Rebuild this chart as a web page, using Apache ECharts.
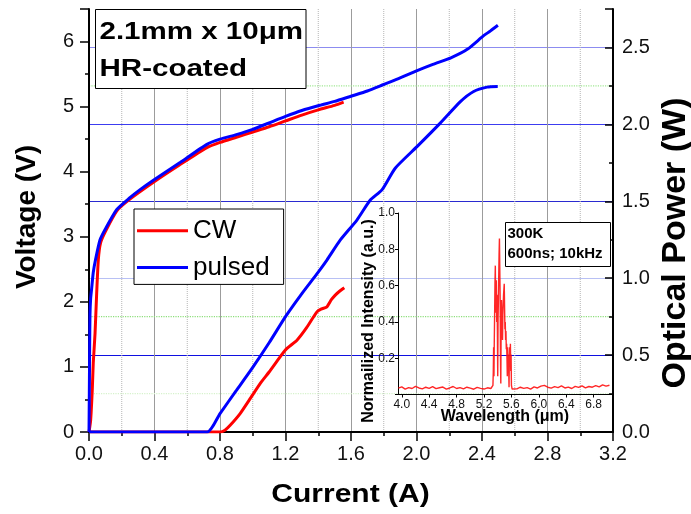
<!DOCTYPE html>
<html>
<head>
<meta charset="utf-8">
<script src="https://cdn.jsdelivr.net/npm/echarts@6/dist/echarts.min.js"></script>
<style>
html,body{margin:0;padding:0;background:#fff;}
#wrap{position:relative;width:691px;height:514px;}
#gridLayer,#chart{position:absolute;left:0;top:0;width:691px;height:514px;}
</style>
</head>
<body>
<div id="wrap">
  <div id="gridLayer"></div>
  <div id="chart"></div>
</div>
<script>
// ---- Data ----
const xMinorGrid = [0.2, 0.6, 1.0, 1.4, 1.8, 2.2, 2.6, 3.0];
const voltageCW = [[0,0],[0.01,0.18],[0.02,0.65],[0.026,1.06],[0.037,1.52],[0.047,2.14],[0.057,2.65],[0.07,2.9],[0.1,3.08],[0.17,3.4],[0.25,3.58],[0.4,3.85],[0.55,4.1],[0.72,4.37],[0.8,4.45],[0.9,4.53],[1.0,4.61],[1.1,4.69],[1.2,4.78],[1.3,4.87],[1.4,4.95],[1.5,5.02],[1.555,5.07]];
const voltagePulsed = [[0,0],[0.002,0.6],[0.004,1.3],[0.006,1.8],[0.01,2.05],[0.016,2.2],[0.026,2.45],[0.04,2.65],[0.067,2.95],[0.1,3.12],[0.17,3.42],[0.25,3.6],[0.31,3.72],[0.4,3.88],[0.556,4.14],[0.72,4.42],[0.8,4.5],[0.9,4.57],[1.0,4.65],[1.1,4.75],[1.2,4.85],[1.3,4.94],[1.41,5.02],[1.5,5.08],[1.6,5.16],[1.7,5.24],[1.8,5.34],[1.9,5.44],[2.0,5.55],[2.1,5.65],[2.21,5.75],[2.31,5.88],[2.41,6.09],[2.45,6.16],[2.497,6.25]];
const powerCW = [[0,0],[0.8,0],[0.83,0.012],[0.862,0.044],[0.923,0.12],[0.98,0.21],[1.045,0.315],[1.1,0.39],[1.198,0.532],[1.27,0.597],[1.33,0.68],[1.392,0.781],[1.42,0.8],[1.453,0.814],[1.48,0.86],[1.504,0.89],[1.53,0.915],[1.559,0.938]];
const powerPulsed = [[0,0],[0.722,0],[0.8,0.12],[0.9,0.27],[1.0,0.42],[1.1,0.58],[1.2,0.75],[1.3,0.9],[1.4,1.04],[1.453,1.118],[1.534,1.247],[1.636,1.378],[1.718,1.508],[1.789,1.574],[1.87,1.715],[2.003,1.855],[2.145,2.008],[2.268,2.148],[2.349,2.214],[2.431,2.242],[2.496,2.246]];
const greenGridPower = [0.25, 0.75, 2.25];
const greenGridColors = ['#d6f2cc', '#8ede7c', '#a2e894'];
const insetXTicks = [4.0, 4.4, 4.8, 5.2, 5.6, 6.0, 6.4, 6.8];
const specBaseLeft = [[3.95,0.035],[4.00,0.042],[4.05,0.030],[4.10,0.038],[4.15,0.033],[4.20,0.045],[4.25,0.036],[4.30,0.031],[4.35,0.040],[4.40,0.034],[4.45,0.043],[4.50,0.032],[4.55,0.037],[4.60,0.041],[4.65,0.030],[4.70,0.036],[4.75,0.044],[4.80,0.033],[4.85,0.038],[4.90,0.031],[4.95,0.040],[5.00,0.035],[5.05,0.029],[5.10,0.039],[5.15,0.034],[5.20,0.030],[5.25,0.037],[5.30,0.033]];
const specPeak = [[5.32,0.04],[5.33,0.05],[5.335,0.12],[5.34,0.26],[5.345,0.10],[5.35,0.30],[5.355,0.45],[5.36,0.62],[5.365,0.71],[5.37,0.50],[5.375,0.45],[5.38,0.63],[5.385,0.40],[5.39,0.55],[5.395,0.36],[5.40,0.10],[5.405,0.42],[5.41,0.52],[5.415,0.66],[5.42,0.78],[5.425,0.86],[5.43,0.70],[5.435,0.55],[5.44,0.21],[5.445,0.06],[5.45,0.40],[5.455,0.52],[5.46,0.45],[5.465,0.38],[5.47,0.30],[5.475,0.44],[5.48,0.50],[5.485,0.55],[5.49,0.58],[5.495,0.61],[5.50,0.48],[5.505,0.36],[5.51,0.40],[5.515,0.30],[5.52,0.35],[5.525,0.25],[5.53,0.28],[5.535,0.20],[5.54,0.10],[5.545,0.26],[5.55,0.17],[5.555,0.22],[5.56,0.14],[5.565,0.04],[5.57,0.20],[5.575,0.26],[5.58,0.18],[5.585,0.28],[5.59,0.13],[5.595,0.22],[5.60,0.05],[5.61,0.03]];
const specBaseRight = [[5.63,0.036],[5.68,0.031],[5.73,0.040],[5.78,0.034],[5.83,0.038],[5.88,0.030],[5.93,0.042],[5.98,0.036],[6.03,0.046],[6.08,0.050],[6.13,0.040],[6.18,0.035],[6.23,0.043],[6.28,0.038],[6.33,0.047],[6.38,0.036],[6.43,0.041],[6.48,0.033],[6.53,0.045],[6.58,0.039],[6.63,0.048],[6.68,0.037],[6.73,0.044],[6.78,0.040],[6.83,0.049],[6.88,0.042],[6.93,0.053],[6.98,0.046],[7.03,0.051]];

const FONT = 'Liberation Sans, Arial, sans-serif';
const X_MAX = 3.2, V_MAX = 6.5, P_MAX = 2.75;
const GRID = {left: 89, right: 78, top: 9, bottom: 82};

// ---------- bottom layer: gridlines only ----------
const gridLayer = echarts.init(document.getElementById('gridLayer'));
gridLayer.setOption({
  animation: false,
  backgroundColor: '#ffffff',
  grid: [GRID],
  xAxis: [{type: 'value', min: 0, max: X_MAX, interval: 0.4,
    axisLine: {show: false}, axisTick: {show: false}, axisLabel: {show: false},
    splitArea: {show: false},
    splitLine: {show: true, lineStyle: {color: '#9c9c9c', width: 1}}}],
  yAxis: [
    {type: 'value', min: 0, max: V_MAX, interval: 1, position: 'left',
     axisLine: {show: false}, axisTick: {show: false}, axisLabel: {show: false},
     splitArea: {show: false}, splitLine: {show: false}},
    {type: 'value', min: 0, max: P_MAX, interval: 0.5, position: 'right',
     axisLine: {show: false}, axisTick: {show: false}, axisLabel: {show: false},
     splitArea: {show: false},
     splitLine: {show: true, lineStyle: {color: ['#ffffff','#1010e0','#b8c0f4','#2a2ad0','#3c3cf0','#8c8cf0','#ffffff'], width: 1.2}}}
  ],
  series: []
    .concat(xMinorGrid.map(v => ({type: 'line', xAxisIndex: 0, yAxisIndex: 0, data: [[v, 0], [v, V_MAX]], symbol: 'none',
      lineStyle: {color: '#b4b4b4', width: 1, type: 'dotted'}})))
    .concat(greenGridPower.map((v, i) => ({type: 'line', xAxisIndex: 0, yAxisIndex: 1, data: [[0, v], [X_MAX, v]], symbol: 'none',
      lineStyle: {color: greenGridColors[i], width: 1.2, type: 'dotted'}})))
});

// ---------- top layer: axes, curves, legend, labels, inset ----------
const chart = echarts.init(document.getElementById('chart'));
const spectrum = specBaseLeft.concat(specPeak, specBaseRight);

chart.setOption({
  animation: false,
  backgroundColor: 'transparent',
  grid: [
    GRID,
    {left: 398, width: 213.5, top: 213, height: 181.5}
  ],
  legend: {
    data: ['CW', 'pulsed'],
    orient: 'vertical',
    left: 134, top: 209,
    backgroundColor: '#fff',
    borderColor: '#000', borderWidth: 1,
    padding: [8.7, 14, 4, 3],
    itemWidth: 51, itemHeight: 3, itemGap: 10.7,
    icon: 'rect',
    textStyle: {fontSize: 26, lineHeight: 26, color: '#000', fontFamily: FONT},
    selectedMode: false,
    z: 20
  },
  xAxis: [
    {
      type: 'value', gridIndex: 0, min: 0, max: X_MAX, interval: 0.4,
      axisLine: {show: true, onZero: false, lineStyle: {color: '#000', width: 2}},
      axisTick: {show: true, length: 9, lineStyle: {color: '#000', width: 1.5}},
      minorTick: {show: true, splitNumber: 2, length: 4, lineStyle: {color: '#000', width: 1.5}},
      axisLabel: {fontSize: 20, color: '#111', fontFamily: FONT, margin: 12, formatter: v => v.toFixed(1)},
      splitLine: {show: false}, splitArea: {show: false}
    },
    {
      type: 'value', gridIndex: 1, min: 3.945, max: 7.06,
      axisLine: {show: true, onZero: false, lineStyle: {color: '#000', width: 1}},
      axisTick: {show: true, length: 3, customValues: insetXTicks, lineStyle: {color: '#000'}},
      axisLabel: {fontSize: 12, color: '#111', fontFamily: FONT, margin: 4, customValues: insetXTicks, formatter: v => v.toFixed(1)},
      splitLine: {show: false}, splitArea: {show: false}
    }
  ],
  yAxis: [
    {
      type: 'value', gridIndex: 0, min: 0, max: V_MAX, interval: 1, position: 'left',
      axisLine: {show: true, onZero: false, lineStyle: {color: '#000', width: 2}},
      axisTick: {show: true, length: 9, lineStyle: {color: '#000', width: 1.5}},
      minorTick: {show: true, splitNumber: 2, length: 4, lineStyle: {color: '#000', width: 1.5}},
      axisLabel: {fontSize: 20, color: '#111', fontFamily: FONT, margin: 15, showMaxLabel: false},
      splitLine: {show: false}, splitArea: {show: false}
    },
    {
      type: 'value', gridIndex: 0, min: 0, max: P_MAX, interval: 0.5, position: 'right',
      axisLine: {show: true, onZero: false, lineStyle: {color: '#000', width: 2}},
      axisTick: {show: true, inside: true, length: 8, lineStyle: {color: '#000', width: 1.5}},
      minorTick: {show: true, splitNumber: 2, length: 4, lineStyle: {color: '#000', width: 1.5}},
      axisLabel: {fontSize: 20, color: '#111', fontFamily: FONT, margin: 9, showMaxLabel: false, formatter: v => v.toFixed(1)},
      splitLine: {show: false}, splitArea: {show: false}
    },
    {
      type: 'value', gridIndex: 1, min: 0, max: 1.0, interval: 0.2,
      axisLine: {show: true, onZero: false, lineStyle: {color: '#000', width: 1}},
      axisTick: {show: true, length: 3, lineStyle: {color: '#000'}},
      axisLabel: {fontSize: 12, color: '#111', fontFamily: FONT, margin: 3, formatter: v => (v === 0 ? '' : v.toFixed(1))},
      splitLine: {show: false}, splitArea: {show: false}
    }
  ],
  series: [
    {name: 'CW', type: 'line', xAxisIndex: 0, yAxisIndex: 0, data: voltageCW, symbol: 'none', smooth: 0.2,
     lineStyle: {color: '#ff0000', width: 3}, itemStyle: {color: '#ff0000'}, z: 3},
    {name: 'CW', type: 'line', xAxisIndex: 0, yAxisIndex: 1, data: powerCW, symbol: 'none', smooth: 0.2,
     lineStyle: {color: '#ff0000', width: 3}, itemStyle: {color: '#ff0000'}, z: 3},
    {name: 'pulsed', type: 'line', xAxisIndex: 0, yAxisIndex: 0, data: voltagePulsed, symbol: 'none', smooth: 0.2,
     lineStyle: {color: '#0000ff', width: 3}, itemStyle: {color: '#0000ff'}, z: 4},
    {name: 'pulsed', type: 'line', xAxisIndex: 0, yAxisIndex: 1, data: powerPulsed, symbol: 'none', smooth: 0.2,
     lineStyle: {color: '#0000ff', width: 3}, itemStyle: {color: '#0000ff'}, z: 4},
    {name: 'spectrum', type: 'line', xAxisIndex: 1, yAxisIndex: 2, data: spectrum, symbol: 'none',
     lineStyle: {color: '#ff1010', width: 1.4, opacity: 0.9}, itemStyle: {color: '#ff0000'}, z: 3}
  ],
  graphic: [
    {type: 'rect', shape: {x: 95.5, y: 9.5, width: 210.5, height: 79}, style: {fill: '#fff', stroke: '#000', lineWidth: 1}, z: 30},
    {type: 'text', x: 99.5, y: 32, scaleX: 1.23, z: 31, style: {text: '2.1mm x 10\u03bcm', font: 'bold 24px ' + FONT, fill: '#000', align: 'left', verticalAlign: 'middle'}},
    {type: 'text', x: 99.5, y: 69, scaleX: 1.23, z: 31, style: {text: 'HR-coated', font: 'bold 24px ' + FONT, fill: '#000', align: 'left', verticalAlign: 'middle'}},
    {type: 'rect', shape: {x: 505.5, y: 222.5, width: 105, height: 44}, style: {fill: '#fff', stroke: '#000', lineWidth: 1}, z: 30},
    {type: 'text', x: 507.5, y: 234, z: 31, style: {text: '300K', font: 'bold 15px ' + FONT, fill: '#000', align: 'left', verticalAlign: 'middle'}},
    {type: 'text', x: 507.5, y: 254, z: 31, style: {text: '600ns; 10kHz', font: 'bold 15px ' + FONT, fill: '#000', align: 'left', verticalAlign: 'middle'}},
    {type: 'text', x: 350.5, y: 495, scaleX: 1.2, z: 31, style: {text: 'Current (A)', font: 'bold 25px ' + FONT, fill: '#000', align: 'center', verticalAlign: 'middle'}},
    {type: 'text', x: 27, y: 217, rotation: Math.PI / 2, z: 31, style: {text: 'Voltage (V)', font: 'bold 28px ' + FONT, fill: '#000', align: 'center', verticalAlign: 'middle'}},
    {type: 'text', x: 676, y: 243, rotation: Math.PI / 2, z: 31, style: {text: 'Optical Power (W)', font: 'bold 34px ' + FONT, fill: '#000', align: 'center', verticalAlign: 'middle'}},
    {type: 'text', x: 505, y: 417, z: 31, style: {text: 'Wavelength (\u03bcm)', font: 'bold 16px ' + FONT, fill: '#000', align: 'center', verticalAlign: 'middle'}},
    {type: 'text', x: 369, y: 321, rotation: Math.PI / 2, z: 31, style: {text: 'Normailized Intensity (a.u.)', font: 'bold 16px ' + FONT, fill: '#000', align: 'center', verticalAlign: 'middle'}}
  ]
});
</script>
</body>
</html>
